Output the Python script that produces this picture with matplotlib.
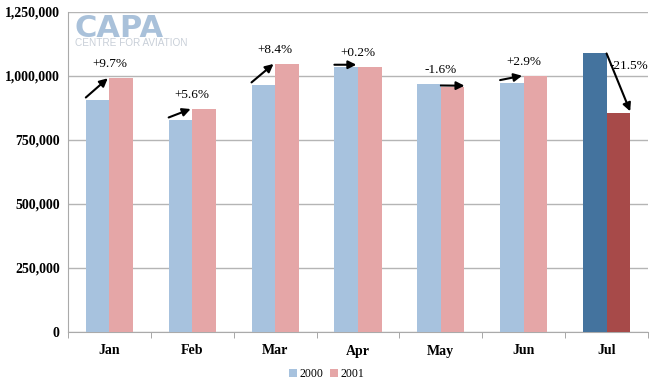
import matplotlib
matplotlib.use("Agg")
import matplotlib.pyplot as plt
import numpy as np

months = ["Jan", "Feb", "Mar", "Apr", "May", "Jun", "Jul"]
v2000 = [906000, 828000, 965000, 1034000, 968000, 974000, 1088000]
v2001 = [991000, 871000, 1047000, 1036000, 957000, 1001000, 854000]
pct_labels = ["+9.7%", "+5.6%", "+8.4%", "+0.2%", "-1.6%", "+2.9%", "-21.5%"]
yticks = [0, 250000, 500000, 750000, 1000000, 1250000]

c2000 = ["#A7C2DE"] * 6 + ["#44739E"]
c2001 = ["#E5A6A7"] * 6 + ["#A74A49"]

fig = plt.figure(figsize=(6.53, 3.92), dpi=100)
ax = fig.add_axes([68/653, 1-332/392, 580/653, 320/392])

x = np.arange(len(months))
w = 0.285
ax.bar(x - w/2, v2000, w, color=c2000, label="2000", zorder=3)
ax.bar(x + w/2, v2001, w, color=c2001, label="2001", zorder=3)

ax.set_xlim(-0.5, 6.5)
ax.set_ylim(0, 1250000)
ax.set_yticks(yticks)
ax.set_yticklabels([f"{t:,}" for t in yticks], family="Liberation Serif",
                   fontweight="bold", fontsize=10)
ax.yaxis.grid(True, color="#B5B5B5", linewidth=1, zorder=0)
ax.set_axisbelow(True)
ax.tick_params(axis="y", length=0, pad=6)

ax.set_xticks(x)
ax.set_xticklabels(months, family="Liberation Serif", fontweight="bold", fontsize=10)
ax.tick_params(axis="x", length=0, pad=9)
ax.set_xticks(np.arange(-0.5, 7, 1), minor=True)
ax.tick_params(axis="x", which="minor", length=4, color="#999999", direction="out")

for s in ["top", "right"]:
    ax.spines[s].set_visible(False)
ax.spines["left"].set_color("#AAAAAA")
ax.spines["bottom"].set_color("#AAAAAA")

# arrows and labels
for i in range(len(months)):
    a, b = v2000[i], v2001[i]
    if i == 6:
        start = (i, a)
        end = (i + w, b + 8000)
        tx, ty = i + 0.27, 1039000
    elif b >= a:
        sy = a + 10000
        start = (i - w, sy)
        end = (i - 0.02, max(b, sy))
        tx, ty = i, max(a, b) + 55000
    else:
        start = (i, a - 5000)
        end = (i + w, b + 5000)
        tx, ty = i, max(a, b) + 55000
    ax.annotate("", xy=end, xytext=start,
                arrowprops=dict(arrowstyle="-|>", color="black", lw=1.5,
                                mutation_scale=12, shrinkA=0, shrinkB=0),
                zorder=5)
    ax.text(tx, ty, pct_labels[i], ha="center", va="center",
            family="Liberation Serif", fontsize=9.5, zorder=6)

# logo
fig.text(74/653, 1-37/392, "CAPA", family="DejaVu Sans", fontweight="bold",
         fontsize=22, color="#A9C1DA", va="baseline", ha="left")
fig.text(75/653, 1-46.5/392, "CENTRE FOR AVIATION", family="Liberation Sans",
         fontsize=7.2, color="#C8CFD8", va="baseline", ha="left")

fig.legend(loc="center", bbox_to_anchor=(0.5, 1-374/392), ncol=2, frameon=False,
           prop=dict(family="Liberation Serif", size=8.5), handlelength=0.7,
           handleheight=0.7, handletextpad=0.2, columnspacing=0.6)

fig.savefig("out.png", dpi=100)
